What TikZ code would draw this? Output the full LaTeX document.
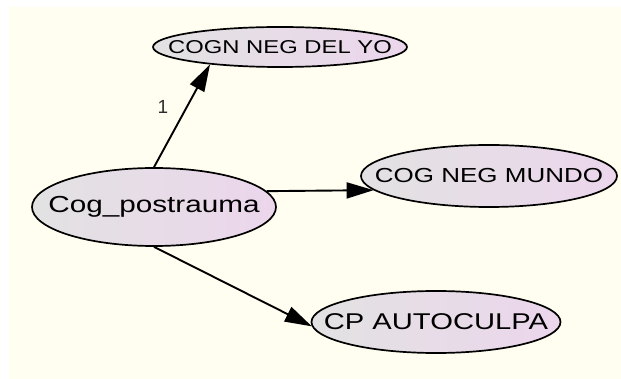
\documentclass[tikz,border=0pt]{standalone}
\usepackage{fontspec}
\setmainfont{Liberation Sans}
\usetikzlibrary{shapes.geometric,arrows.meta}

\definecolor{canvas}{RGB}{255,254,240}
\definecolor{fillL}{RGB}{226,226,226}
\definecolor{fillR}{RGB}{236,214,236}
\definecolor{labelgray}{RGB}{45,45,45}

\tikzset{
  latent/.style={ellipse, draw=black, line width=1.7pt, inner sep=0pt,
    left color=fillL, right color=fillR},
  caption/.style={inner sep=0pt, text=black},
  link/.style={line width=1.9pt, -{Triangle[length=27pt,width=16pt]}},
  pathlabel/.style={font=\fontsize{19pt}{19pt}\selectfont, text=labelgray, inner sep=0pt}
}
\newcommand{\wide}[1]{\scalebox{1.28}[1]{#1}}

\begin{document}
\begin{tikzpicture}[x=1pt,y=-1pt]
  \useasboundingbox (0,0) rectangle (621,379);
  \fill[white] (0,0) rectangle (621,379);
  \fill[canvas] (9,7) rectangle (621,379);

  % ellipses
  \node[latent, minimum width=254pt, minimum height=40pt] (yo) at (280,47) {};
  \node[latent, minimum width=244pt, minimum height=78pt] (cog) at (154,207) {};
  \node[latent, minimum width=256pt, minimum height=62pt] (mundo) at (489,176) {};
  \node[latent, minimum width=249pt, minimum height=62pt] (cp) at (436,322) {};

  % captions
  \node[caption, font=\fontsize{18.6pt}{20pt}\selectfont] (yot) at (yo) {\wide{COGN NEG DEL YO}};
  \node[caption, font=\fontsize{23.2pt}{25pt}\selectfont] (cogt) at (cog) {\wide{Cog\_postrauma}};
  \node[caption, font=\fontsize{20.3pt}{22pt}\selectfont] (mundot) at (mundo) {\wide{COG NEG MUNDO}};
  \node[caption, font=\fontsize{22.8pt}{24pt}\selectfont] (cpt) at (cp) {\wide{CP AUTOCULPA}};

  % paths
  \draw[link] (cog.north) -- (yo.194);
  \draw[link] (cog.8.9) -- (mundo.187);
  \draw[link] (cog.south) -- (cp.182);

  \node[pathlabel] (w1) at (163,107) {1};
\end{tikzpicture}
\end{document}
